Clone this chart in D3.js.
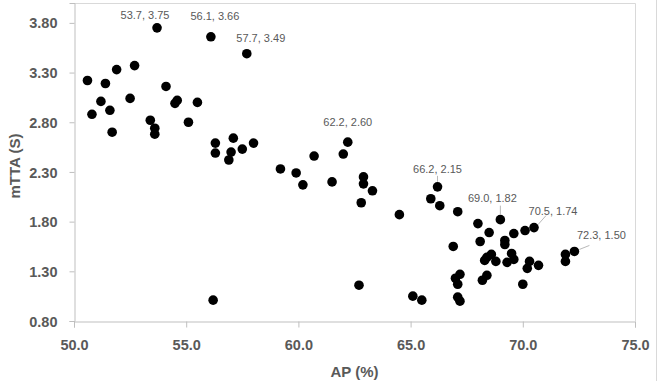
<!DOCTYPE html>
<html>
<head>
<meta charset="utf-8">
<script src="https://cdn.jsdelivr.net/npm/d3@7"></script>
<style>
	body { margin: 0; background: #fff; }
</style>
</head>
<body>
<div id="chart"></div>
<script>
// data
var apValues = [
	50.6, 50.8, 51.2, 51.4, 51.6, 51.7, 51.9, 52.5, 52.7, 53.4,
	53.6, 53.6, 53.7, 54.1, 54.5, 54.6, 55.1, 55.5, 56.1, 56.3,
	56.3, 57.1, 57.0, 56.9, 57.5, 58.0, 57.7, 59.2, 59.9, 60.2,
	60.7, 61.5, 62.0, 62.2, 62.9, 62.9, 63.3, 62.8, 64.5, 62.7,
	56.2, 66.2, 65.9, 66.3, 67.1, 68.0, 69.0, 68.5, 69.6, 70.1,
	70.5, 68.1, 69.2, 69.2, 66.9, 68.6, 68.4, 68.3, 68.8, 69.5,
	69.6, 69.3, 70.3, 70.2, 70.7, 70.0, 71.9, 71.9, 72.3, 67.2,
	67.0, 67.1, 68.2, 68.4, 65.1, 65.5, 67.1, 67.2
];
var mttaValues = [
	3.22, 2.88, 3.01, 3.19, 2.92, 2.70, 3.33, 3.04, 3.37, 2.82,
	2.74, 2.68, 3.75, 3.16, 2.99, 3.02, 2.80, 3.00, 3.66, 2.59,
	2.49, 2.64, 2.50, 2.42, 2.53, 2.59, 3.49, 2.33, 2.29, 2.17,
	2.46, 2.20, 2.48, 2.60, 2.25, 2.18, 2.11, 1.99, 1.87, 1.16,
	1.01, 2.15, 2.03, 1.96, 1.90, 1.78, 1.82, 1.69, 1.68, 1.71,
	1.74, 1.60, 1.61, 1.57, 1.55, 1.47, 1.44, 1.41, 1.40, 1.48,
	1.42, 1.39, 1.40, 1.33, 1.36, 1.17, 1.47, 1.40, 1.50, 1.27,
	1.23, 1.17, 1.21, 1.26, 1.05, 1.01, 1.04, 1.00
];
// labelled points (index into the arrays above)
var labelIndex = [12, 18, 26, 33, 41, 46, 50, 68];
var xTicks = [50, 55, 60, 65, 70, 75];
var yTicks = [0.8, 1.3, 1.8, 2.3, 2.8, 3.3, 3.8];

makechart()

function makechart() {
	var svgWidth = 658;
	var svgHeight = 381;
	var margin = { top: 3, right: 23, bottom: 60, left: 74 };
	var width = svgWidth - margin.left - margin.right;
	var height = svgHeight - margin.top - margin.bottom;
	var grey = "#595959";

	var svg = d3.select("#chart")
		.append("svg")
		.attr("width", svgWidth)
		.attr("height", svgHeight)
		.style("display", "block");

	// outer chart border on the right edge
	svg.append("line")
		.attr("x1", svgWidth - 1.5).attr("x2", svgWidth - 1.5)
		.attr("y1", 0).attr("y2", svgHeight)
		.attr("stroke", "#d9d9d9");

	var g = svg.append("g")
		.attr("transform", `translate(${margin.left},${margin.top})`);

	var x = d3.scaleLinear().domain([50, 75]).range([0, width]);
	var y = d3.scaleLinear().domain([0.8, 4.0]).range([height, 0]);

	// plot area border (top / right)
	g.append("path")
		.attr("d", `M0.5,0.5H${width + 0.5}V${height}`)
		.attr("fill", "none")
		.attr("stroke", "#d9d9d9");

	var xAxis = g.append("g")
		.attr("transform", `translate(0,${height + 0.5})`)
		.call(d3.axisBottom(x).tickValues(xTicks).tickFormat(d3.format(".1f")).tickSize(6).tickPadding(12));
	var yAxis = g.append("g")
		.attr("transform", "translate(0.5,0)")
		.call(d3.axisLeft(y).tickValues(yTicks).tickFormat(d3.format(".2f")).tickSize(5).tickPadding(12));

	[xAxis, yAxis].forEach(function (a) {
		a.select(".domain").attr("stroke", "#bfbfbf");
		a.selectAll(".tick line").attr("stroke", "#bfbfbf");
		a.selectAll(".tick text")
			.attr("fill", grey)
			.style("font-family", "Liberation Sans, Arial")
			.style("font-size", "14.5px")
			.style("font-weight", "bold");
	});
	yAxis.selectAll(".tick text").attr("dy", "0.35em");

	// axis titles
	g.append("text")
		.attr("x", width / 2)
		.attr("y", height + 56)
		.attr("text-anchor", "middle")
		.attr("fill", grey)
		.style("font-family", "Liberation Sans, Arial")
		.style("font-size", "15px")
		.style("font-weight", "bold")
		.text("AP (%)");

	g.append("text")
		.attr("transform", `translate(${-54},${y(2.36)}) rotate(-90)`)
		.attr("text-anchor", "middle")
		.attr("fill", grey)
		.style("font-family", "Liberation Sans, Arial")
		.style("font-size", "15px")
		.style("font-weight", "bold")
		.text("mTTA (S)");

	// points
	var points = apValues.map(function (d, i) { return { ap: d, mtta: mttaValues[i] }; });
	g.selectAll("circle.pt")
		.data(points)
		.enter()
		.append("circle")
		.attr("class", "pt")
		.attr("cx", d => x(d.ap))
		.attr("cy", d => y(d.mtta))
		.attr("r", 4.8)
		.attr("fill", "#000");

	// data labels, offsets from the point, plus leader line if any
	var labelOffset = [
		{ dx: -12, dy: -9 },
		{ dx: 4, dy: -17 },
		{ dx: 14, dy: -12 },
		{ dx: 0, dy: -16 },
		{ dx: 0, dy: -14, lead: [[0, -11], [0, -5]] },
		{ dx: -8, dy: -18, lead: [[0, -14], [0, -5]] },
		{ dx: 19, dy: -13, lead: [[12, -12], [4, -3]] },
		{ dx: 27, dy: -12, lead: [[15, -6], [5, -2]] }
	];

	labelIndex.forEach(function (idx, k) {
		var p = points[idx];
		var px = x(p.ap), py = y(p.mtta);
		var o = labelOffset[k];
		if (o.lead) {
			g.append("line")
				.attr("x1", px + o.lead[0][0]).attr("y1", py + o.lead[0][1])
				.attr("x2", px + o.lead[1][0]).attr("y2", py + o.lead[1][1])
				.attr("stroke", "#a6a6a6")
				.attr("stroke-width", 0.8);
		}
		g.append("text")
			.attr("x", px + o.dx)
			.attr("y", py + o.dy)
			.attr("text-anchor", "middle")
			.attr("fill", grey)
			.style("font-family", "Liberation Sans, Arial")
			.style("font-size", "11px")
			.text(d3.format(".1f")(p.ap) + ", " + d3.format(".2f")(p.mtta));
	});
}
</script>
</body>
</html>
